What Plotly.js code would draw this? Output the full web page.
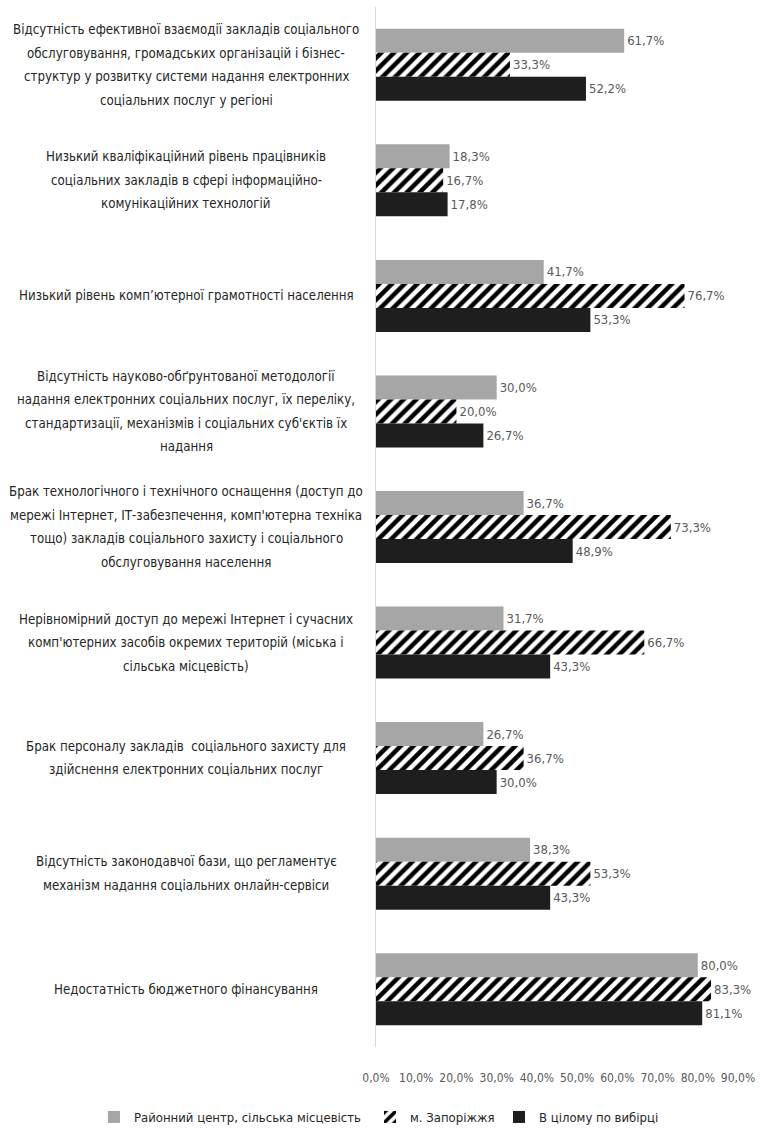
<!DOCTYPE html>
<html>
<head>
<meta charset="utf-8">
<script src="https://cdn.plot.ly/plotly-3.0.1.min.js"></script>
<style>html,body{margin:0;padding:0;background:#fff}#chart{width:760px;height:1132px}</style>
</head>
<body>
<div id="chart"></div>
<script>
const categories = [
  "Відсутність ефективної взаємодії закладів соціального<br>обслуговування, громадських організацій і бізнес-<br>структур у розвитку системи надання електронних<br>соціальних послуг у регіоні",
  "Низький кваліфікаційний рівень працівників<br>соціальних закладів в сфері інформаційно-<br>комунікаційних технологій",
  "Низький рівень комп’ютерної грамотності населення",
  "Відсутність науково-обґрунтованої методології<br>надання електронних соціальних послуг, їх переліку,<br>стандартизації, механізмів і соціальних суб'єктів їх<br>надання",
  "Брак технологічного і технічного оснащення (доступ до<br>мережі Інтернет, ІТ-забезпечення, комп'ютерна техніка<br>тощо) закладів соціального захисту і соціального<br>обслуговування населення",
  "Нерівномірний доступ до мережі Інтернет і сучасних<br>комп'ютерних засобів окремих територій (міська і<br>сільська місцевість)",
  "Брак персоналу закладів  соціального захисту для<br>здійснення електронних соціальних послуг",
  "Відсутність законодавчої бази, що регламентує<br>механізм надання соціальних онлайн-сервіси",
  "Недостатність бюджетного фінансування"
];
const seriesNames = ["Районний центр, сільська місцевість", "м. Запоріжжя", "В цілому по вибірці"];
const district = [61.7, 18.3, 41.7, 30.0, 36.7, 31.7, 26.7, 38.3, 80.0];
const zaporizhzhia = [33.3, 16.7, 76.7, 20.0, 73.3, 66.7, 36.7, 53.3, 83.3];
const total = [52.2, 17.8, 53.3, 26.7, 48.9, 43.3, 30.0, 43.3, 81.1];
const tickValues = [0, 10, 20, 30, 40, 50, 60, 70, 80, 90];
const tickLabels = ["0,0%", "10,0%", "20,0%", "30,0%", "40,0%", "50,0%", "60,0%", "70,0%", "80,0%", "90,0%"];

const FONT = "'Liberation Sans Narrow', 'DejaVu Sans Condensed', sans-serif";
const labelFont = {family: FONT, size: 13, color: '#595959'};

function barTrace(name, values, marker, legendId) {
  return {
    type: 'bar', orientation: 'h', name: name, legend: legendId,
    x: values, y: categories,
    marker: marker,
    texttemplate: '%{x:.1f}%',
    textposition: 'outside', cliponaxis: false,
    textfont: labelFont, outsidetextfont: labelFont,
    hoverinfo: 'skip'
  };
}

const data = [
  barTrace(seriesNames[0], district, {color: '#a6a6a6', line: {width: 0}}, 'legend'),
  barTrace(seriesNames[1], zaporizhzhia, {color: '#ffffff', line: {width: 0},
    pattern: {shape: '/', fgcolor: '#000000', bgcolor: '#ffffff', size: 9, solidity: 0.5}}, 'legend2'),
  barTrace(seriesNames[2], total, {color: '#1e1e1e', line: {width: 0}}, 'legend3')
];

const annotations = [];
categories.forEach(c => {
  const lines = c.split('<br>');
  const n = lines.length;
  lines.forEach((ln, i) => {
    annotations.push({
      xref: 'paper', yref: 'y', x: 0, y: c, xanchor: 'center', yanchor: 'middle',
      xshift: -190, yshift: ((n - 1) / 2 - i) * 23.5, showarrow: false, text: ln,
      font: {family: FONT, size: 13.2, color: '#262626'}
    });
  });
});

function legendAt(xpx) {
  return {orientation: 'h', xref: 'container', yref: 'container', x: xpx / 760, xanchor: 'left',
    y: 15 / 1132, yanchor: 'middle', itemwidth: 30,
    font: {family: FONT, size: 13, color: '#262626'}, bgcolor: 'rgba(0,0,0,0)'};
}

const layout = {
  width: 760, height: 1132,
  margin: {l: 376, r: 22, t: 7, b: 85},
  paper_bgcolor: '#ffffff', plot_bgcolor: '#ffffff',
  separators: ', ',
  barmode: 'group', bargap: 0.377, bargroupgap: 0,
  font: {family: FONT, size: 13, color: '#595959'},
  showlegend: true,
  legend: legendAt(94),
  legend2: legendAt(370),
  legend3: legendAt(499),
  xaxis: {range: [0, 90], tickvals: tickValues, ticktext: tickLabels,
    showgrid: false, zeroline: false, showline: false, ticks: '',
    ticklabelstandoff: 22, tickfont: {family: FONT, size: 12, color: '#595959'}, fixedrange: true},
  yaxis: {type: 'category', autorange: 'reversed', showticklabels: false, ticks: '',
    showgrid: false, zeroline: false, showline: true, linecolor: '#d9d9d9', linewidth: 1, fixedrange: true},
  annotations: annotations
};

Plotly.newPlot('chart', data, layout, {displayModeBar: false, staticPlot: true});
</script>
</body>
</html>
